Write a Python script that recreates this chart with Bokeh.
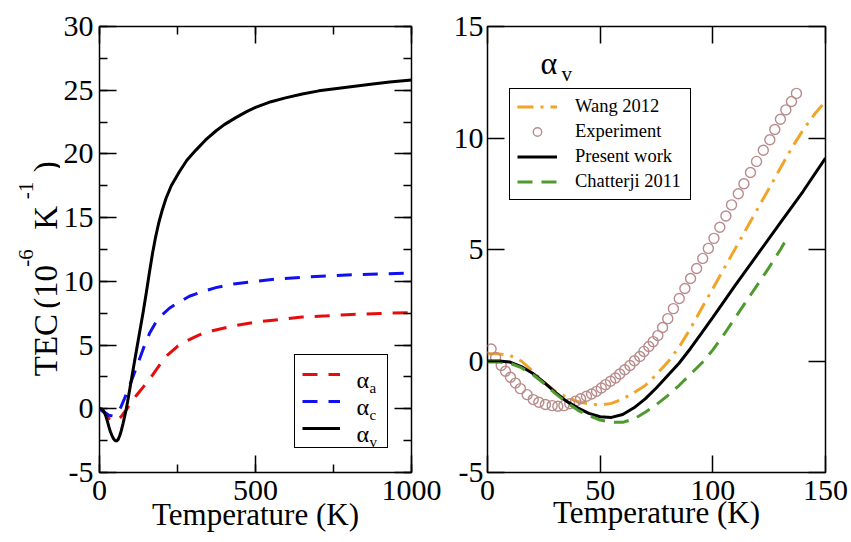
import math
from bokeh.plotting import figure
from bokeh.models import (LinearAxis, SingleIntervalTicker, Range1d, Label,
                          Legend, LegendItem, ColumnDataSource)
from bokeh.layouts import row
from bokeh.embed import file_html
from bokeh.resources import INLINE
from bokeh.core.properties import value

FONT = "Liberation Serif"

# ---------------- data ----------------
# Left panel: alpha_a, alpha_c, alpha_v (Present work) vs temperature (K)
a_T = [0, 15, 30, 45, 55, 70, 85, 100, 120, 140, 160, 180, 200, 213, 250, 277,
       320, 362, 430, 500, 575, 649, 730, 809, 900, 1000]
a_v = [0, -0.3, -0.75, -0.92, -0.93, -0.6, -0.1, 0.45, 1.1, 1.7, 2.3, 3.0, 3.7,
       4.1, 4.9, 5.3, 5.8, 6.13, 6.5, 6.8, 7.0, 7.2, 7.3, 7.4, 7.48, 7.55]

c_T = [0, 15, 30, 42, 55, 68, 80, 95, 110, 121, 140, 160, 181, 200, 224, 250,
       288, 330, 373, 430, 500, 575, 650, 730, 809, 900, 1000]
c_v = [0, -0.25, -0.5, -0.56, -0.4, 0.1, 0.8, 1.7, 2.7, 3.4, 4.7, 5.9, 6.8, 7.35,
       7.89, 8.3, 8.83, 9.2, 9.51, 9.8, 10.0, 10.2, 10.32, 10.43, 10.51, 10.58, 10.65]

pres_T = [0, 5, 10, 15, 20, 25, 30, 35, 40, 45, 50, 55, 60, 65, 70, 75, 80, 85,
          90, 95, 100, 110, 120, 130, 140, 150, 160, 170, 180, 190, 200, 213, 230,
          256, 280, 309, 340, 373, 400, 437, 470, 500, 550, 596, 650, 703, 780,
          863, 930, 1000]
pres_v = [0, 0, -0.05, -0.25, -0.55, -0.95, -1.4, -1.8, -2.1, -2.35, -2.5, -2.53,
          -2.4, -2.1, -1.7, -1.2, -0.65, -0.1, 0.55, 1.25, 1.96, 3.4, 4.8, 6.2,
          7.6, 9.1, 10.7, 12.2, 13.5, 14.6, 15.5, 16.5, 17.5, 18.6, 19.5, 20.3,
          21.1, 21.8, 22.3, 22.85, 23.3, 23.65, 24.1, 24.4, 24.7, 24.95, 25.2, 25.45,
          25.65, 25.8]

# Right panel: comparison of alpha_v
wang_T = [0, 5, 10, 15, 20, 25, 30, 35, 40, 45, 50, 55, 60, 65, 70, 75, 80, 85,
          90, 95, 100, 105, 110, 115, 120, 125, 130, 135, 140, 145, 150]
wang_v = [0.32, 0.32, 0.25, 0.0, -0.45, -0.95, -1.35, -1.62, -1.82, -1.93, -1.97,
          -1.9, -1.7, -1.42, -1.1, -0.6, -0.05, 0.62, 1.45, 2.35, 3.25, 4.15, 5.05,
          5.95, 6.85, 7.75, 8.65, 9.55, 10.35, 11.05, 11.65]

chat_T = [0, 5, 10, 15, 20, 25, 30, 35, 40, 45, 50, 55, 60, 65, 70, 75, 80, 85,
          90, 96, 100, 105, 110, 115, 120, 125, 130, 133.5]
chat_v = [-0.05, -0.05, -0.1, -0.3, -0.6, -1.0, -1.45, -1.85, -2.2, -2.45, -2.65,
          -2.75, -2.75, -2.6, -2.3, -1.95, -1.55, -1.1, -0.6, 0.0, 0.5, 1.2, 1.95,
          2.7, 3.45, 4.2, 5.0, 5.6]

exp_T = [1.6, 3.6, 6.1, 8.0, 10.2, 12.4, 14.6, 17.6, 20.3, 22.8, 25.7, 28.7, 31.2,
         33.9, 36.5, 39.1, 41.3, 43.9, 46.2, 48.4, 50.5, 52.4, 54.6, 56.8, 58.7,
         60.9, 63.2, 65.2, 67.6, 69.4, 71.6, 73.5, 75.6, 77.7, 80.0, 82.5, 85.1,
         87.6, 90.1, 92.8, 95.5, 98.0, 100.5, 103.1, 105.8, 108.3, 111.3, 113.8,
         116.7, 119.4, 122.4, 125.3, 127.5, 130.0, 132.4, 134.9, 137.1]
exp_v = [0.54, 0.16, -0.20, -0.46, -0.73, -0.99, -1.24, -1.51, -1.73, -1.85, -1.95,
         -2.00, -2.03, -2.00, -1.92, -1.80, -1.69, -1.58, -1.48, -1.36, -1.21, -1.06,
         -0.91, -0.76, -0.58, -0.39, -0.20, 0.01, 0.20, 0.43, 0.65, 0.87, 1.14, 1.50,
         1.90, 2.35, 2.80, 3.25, 3.70, 4.15, 4.60, 5.05, 5.50, 6.00, 6.50, 7.00,
         7.50, 7.95, 8.45, 8.95, 9.45, 9.92, 10.38, 10.84, 11.26, 11.64, 12.00]

right_legend_labels = ["Wang 2012", "Experiment", "Present work", "Chatterji 2011"]
left_legend_subs = ["a", "c", "v"]
x_title = "Temperature (K)"
# y title pieces: (text, is_superscript)
y_title_parts = [("TEC", False), ("(", False), ("10", False), ("-6", True),
                 ("K", False), ("-1", True), (")", False)]

# ---------------- styling ----------------
RED = "#e60c0c"
BLUE = "#1010f0"
ORANGE = "#f0a428"
GREEN = "#4f9a2f"
ROSY = "#b88c8c"


def make_fig(width, height, xr, yr, bl, br, bt, bb):
    p = figure(width=width, height=height, x_range=Range1d(*xr), y_range=Range1d(*yr),
               output_backend="svg", toolbar_location=None, tools="",
               min_border_left=bl, min_border_right=br, min_border_top=bt,
               min_border_bottom=bb, x_axis_location=None, y_axis_location=None)
    p.grid.visible = False
    p.outline_line_color = "black"
    p.outline_line_width = 1.5
    p.background_fill_color = "white"
    p.border_fill_color = "white"
    return p


def add_axes(p, xint, yint, minor, ystandoff, ymin, title_standoff):
    for loc, interval in [("below", xint), ("above", xint), ("left", yint), ("right", yint)]:
        ax = LinearAxis(ticker=SingleIntervalTicker(interval=interval,
                                                    num_minor_ticks=2 if minor else 0))
        ax.axis_line_color = None
        ax.major_tick_in = 17
        ax.major_tick_out = 0
        ax.minor_tick_in = 8
        ax.minor_tick_out = 0
        ax.major_tick_line_color = "black"
        ax.major_tick_line_width = 1.5
        ax.minor_tick_line_color = "black" if minor else None
        ax.minor_tick_line_width = 1.5
        ax.major_label_text_font = FONT
        ax.major_label_text_color = "black"
        if loc in ("below", "left"):
            ax.major_label_text_font_size = "30px"
            ax.major_label_standoff = 8 if loc == "below" else ystandoff
        else:
            ax.major_label_text_font_size = "0px"
            ax.major_label_standoff = 0
        if loc == "left":
            ax.major_label_overrides = {ymin: "-5"}
        if loc == "below":
            ax.axis_label = x_title
            ax.axis_label_text_font = FONT
            ax.axis_label_text_font_size = "31px"
            ax.axis_label_text_font_style = "normal"
            ax.axis_label_text_color = "black"
            ax.axis_label_standoff = title_standoff
        p.add_layout(ax, loc)


def lab(p, x, y, text, size):
    p.add_layout(Label(x=x, y=y, x_units="screen", y_units="screen", text=text,
                       text_font=FONT, text_font_size=size, text_color="black",
                       text_align="left", text_baseline="alphabetic"))


H = 542
SW = 60  # width of the y-title strip

# ---------------- y-title strip ----------------
ps = figure(width=SW, height=H, x_range=Range1d(0, SW), y_range=Range1d(0, H),
            output_backend="svg", toolbar_location=None, tools="", min_border=0,
            x_axis_location=None, y_axis_location=None)
ps.grid.visible = False
ps.outline_line_color = None
starts = [425, 343, 330, 292, 247, 210, 177]          # pixel offsets from top
yt = ColumnDataSource(dict(
    x=[25 if sup else 45 for _, sup in y_title_parts],
    y=[H - s for s in starts],
    text=[t for t, _ in y_title_parts],
    size=["21px" if sup else "33px" for _, sup in y_title_parts]))
ps.text(x="x", y="y", text="text", source=yt, angle=math.pi / 2,
        text_font=value(FONT), text_font_size="size", text_color="black",
        text_align="left", text_baseline="alphabetic")

# ---------------- left panel ----------------
p1 = make_fig(444 - SW, H, (0, 1000), (-5, 30), 97 - SW, 33, 25, 70)
add_axes(p1, 500, 5, True, 6, -5, -6)

r_a = p1.line(a_T, a_v, line_color=RED, line_width=3, line_dash="15 11")
r_c = p1.line(c_T, c_v, line_color=BLUE, line_width=3, line_dash="15 11")
r_v = p1.line(pres_T, pres_v, line_color="black", line_width=3)

leg1 = Legend(items=[LegendItem(label=" ", renderers=[r]) for r in (r_a, r_c, r_v)],
              location=(195, 24), padding=7, spacing=3, glyph_width=38,
              glyph_height=24, label_height=24, label_width=23, label_standoff=17,
              border_line_color="black", border_line_width=1.5, border_line_alpha=1.0,
              margin=0, label_text_font_size="14px", background_fill_alpha=0.0)
p1.add_layout(leg1)
for yb, sub in zip([93, 66, 39], left_legend_subs):
    lab(p1, 257, yb, "α", "24px")
    lab(p1, 270, yb - 8, sub, "15px")

# ---------------- right panel ----------------
p2 = make_fig(407, H, (0, 150), (-5, 15), 43, 26, 26, 68)
add_axes(p2, 50, 5, False, 4, -5, -8)

r_w = p2.line(wang_T, wang_v, line_color=ORANGE, line_width=3, line_dash="16 7 3 7")
r_e = p2.scatter(exp_T, exp_v, marker="circle", size=10, fill_color=None,
                 line_color=ROSY, line_width=1.4)
r_p = p2.line([t for t in pres_T if t <= 150],
              [v for t, v in zip(pres_T, pres_v) if t <= 150],
              line_color="black", line_width=3)
r_g = p2.line(chat_T, chat_v, line_color=GREEN, line_width=3, line_dash="15 9")

leg2 = Legend(items=[LegendItem(label=l, renderers=[r]) for l, r in
                     zip(right_legend_labels, (r_w, r_e, r_p, r_g))],
              location=(22, 272), padding=7, spacing=4, glyph_width=40,
              glyph_height=21, label_height=21, label_width=108, label_standoff=18,
              border_line_color="black", border_line_width=1.5, border_line_alpha=1.0,
              margin=0, label_text_font=FONT, label_text_font_size="18.5px",
              label_text_color="black", background_fill_alpha=0.0)
p2.add_layout(leg2)

lab(p2, 53, 410, "α", "32px")
lab(p2, 74, 399, "v", "21px")

layout = row(ps, p1, p2)
open("out.html", "w").write(file_html(layout, INLINE))
